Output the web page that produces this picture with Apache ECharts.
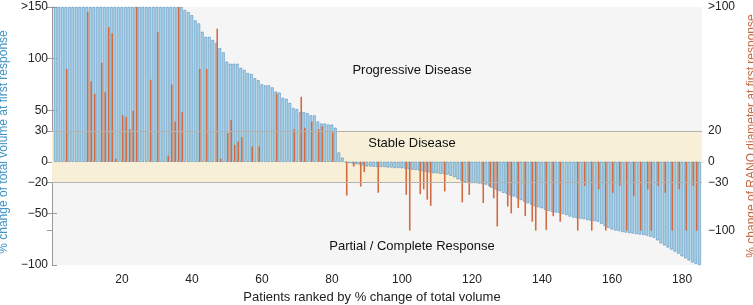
<!DOCTYPE html>
<html>
<head>
<meta charset="utf-8">
<script src="https://cdn.jsdelivr.net/npm/echarts@6/dist/echarts.min.js"></script>
<style>
  html, body { margin: 0; padding: 0; background: #fff; }
  #show { width: 753px; height: 305px; }
</style>
</head>
<body>
<div id="show"></div>
<script>
var myChart = echarts.init(document.getElementById("show"));

// % change of total volume, patient 1..185 (values above 150 drawn at 150, ">150")
var volumeChange = [
    150, 150, 150, 150, 150, 150, 150, 150, 150, 150,
    150, 150, 150, 150, 150, 150, 150, 150, 150, 150,
    150, 150, 150, 150, 150, 150, 150, 150, 150, 150,
    150, 150, 150, 150, 150, 150, 150, 147,
    145, 142, 137, 134, 126, 121, 121, 118, 115, 110,
    106, 97, 95, 95, 95, 91, 89, 86, 85, 81,
    79, 75, 74, 74, 72, 68, 67, 62, 61, 57,
    52, 51, 48, 48, 47, 45, 45, 39, 37, 37, 36,
    36, 33, 9, 4,
    -0.4, -1, -1.8, -2.3, -2.6, -3.5, -4.5, -4.5, -4.8, -5,
    -5, -5, -5.5, -5.5, -6, -6, -6.1, -6.5, -7, -7.7,
    -7.7, -8.4, -9, -9.7, -10.3, -11, -11, -11.6, -11.6, -12.3,
    -13.5, -14.8, -16.8, -18, -19.5,
    -20, -20.5, -20.6, -21, -21.5, -22, -23.5, -25.5, -27, -28.5,
    -30, -31, -32.5, -33.5, -35, -37, -38.5, -40, -41.5, -43,
    -44, -45, -46.5, -47.5, -48.5, -49, -49.5, -50.5, -51.5, -53,
    -54, -54.5, -55, -55.5, -56.5, -57, -57.5, -58,
    -60, -62, -64, -65.5, -66.5, -67, -68, -68.5, -69, -69.5,
    -70, -70.5, -70.8, -71.5, -72.5, -73.5, -76, -79, -81, -83,
    -85, -87, -89, -91.5, -93.5, -95.5, -97.5, -99, -100
];

// patients that also have a RANO measurement, and its % change (100 = ">100")
var ranoPatient = [
    4, 10, 11, 12, 14, 15, 16, 17, 18, 20, 21, 22, 23, 24, 28, 30, 33, 34, 35, 36, 37,
    42, 44, 47, 48, 50, 51, 52, 53, 54, 57, 59, 64, 69, 71, 72, 74, 76, 77, 80,
    84, 86, 88, 89, 93, 101, 102, 105, 106, 107, 108, 112, 117, 119, 123, 125, 126, 127,
    130, 131, 133, 135, 137, 138, 141, 143, 145, 150,
    152, 154, 156, 158, 160, 162, 164, 166, 168, 170, 171, 173, 175, 177, 179, 181, 183, 184
];
var ranoChange = [
    60, 97, 52, 44, 64, 45, 87, 83, 2, 30, 29, 21, 33, 100, 53, 84, 4, 50, 26, 100, 32,
    60, 60, 86, 2, 18.5, 27, 11, 13, 16, 10, 10, 44, 21, 42, 22, 26, 21, 23, 19,
    -49, -7, -36, -15, -45, -48, -100, -47, -40, -55, -64, -43, -59, -48, -60, -37, -53, -94,
    -65, -75, -67, -79, -87, -100, -99, -79, -87, -100,
    -35, -100, -40, -100, -45, -35, -100, -50, -100, -40, -100, -35, -45, -100, -40, -100, -35, -100
];

var volumeTicks = [-100, -50, -20, 0, 30, 50, 100, 150];
var ranoTicks = [100, 20, 0, -30, -100];
var xTicks = [20, 40, 60, 80, 100, 120, 140, 160, 180];

var captions = ['Progressive Disease', 'Stable Disease', 'Partial / Complete Response'];

// right axis: 0..100 RANO sits on 0..150 volume, 0..-100 RANO sits on 0..-66.7 volume
function ranoToAxis(v) {
    return v >= 0 ? v * 1.5 : v / 1.5;
}

var volumeData = volumeChange.map(function (v, i) { return [i + 1, v]; });
var ranoData = ranoPatient.map(function (p, k) { return [p, ranoToAxis(ranoChange[k])]; });

function minus(v) {
    return String(v).replace('-', '\u2212');
}

var font = 'Liberation Sans';
var axisGray = '#9a9a9a';

myChart.setOption(option = {
    animation: false,
    grid: {
        left: 52, right: 51, top: 7, bottom: 40,
        outerBoundsMode: 'none',
        containLabel: false,
        show: true,
        backgroundColor: '#f5f5f5',
        borderWidth: 0
    },
    xAxis: [
        {
            type: 'value',
            min: 0,
            max: 185.7,
            position: 'bottom',
            name: 'Patients ranked by % change of total volume',
            nameLocation: 'middle',
            nameGap: 25,
            nameTextStyle: { fontFamily: font, fontSize: 13, color: '#222', padding: [0, 10, 0, 0] },
            splitLine: { show: false },
            axisLine: { show: true, lineStyle: { color: axisGray } },
            axisTick: { show: true, inside: true, length: 5, customValues: xTicks, lineStyle: { color: axisGray } },
            axisLabel: { customValues: xTicks, fontFamily: font, fontSize: 12, color: '#222', margin: 9 }
        },
        {
            type: 'value',
            min: 0,
            max: 185.7,
            position: 'top',
            splitLine: { show: false },
            axisLine: { show: true, lineStyle: { color: axisGray } },
            axisTick: { show: true, inside: true, length: 5, customValues: xTicks, lineStyle: { color: axisGray } },
            axisLabel: { show: false }
        }
    ],
    yAxis: [
        {
            type: 'value',
            min: -100,
            max: 150,
            position: 'left',
            name: '% change of total volume at first response',
            nameLocation: 'middle',
            nameGap: 37,
            nameTextStyle: { fontFamily: font, fontSize: 12, color: '#3f93c6', padding: [0, 12, 0, 0] },
            splitLine: { show: false },
            axisLine: { show: true, lineStyle: { color: axisGray } },
            axisTick: { show: true, inside: true, length: 5, customValues: volumeTicks, lineStyle: { color: axisGray } },
            axisLabel: {
                customValues: volumeTicks,
                fontFamily: font, fontSize: 12, color: '#222', margin: 4,
                formatter: function (v) { return v === 150 ? '>150' : minus(v); }
            }
        },
        {
            type: 'value',
            min: -100,
            max: 150,
            position: 'right',
            name: '% change of RANO diameter at first response',
            nameLocation: 'middle',
            nameGap: 36,
            nameTextStyle: { fontFamily: font, fontSize: 12, color: '#c8663d' },
            splitLine: { show: false },
            axisLine: { show: true, lineStyle: { color: axisGray } },
            axisTick: {
                show: true, inside: true, length: 5,
                customValues: ranoTicks.map(ranoToAxis).concat([100, 50, -50]),
                lineStyle: { color: axisGray }
            },
            axisLabel: {
                customValues: ranoTicks.map(ranoToAxis),
                fontFamily: font, fontSize: 12, color: '#222', margin: 6,
                formatter: function (v) {
                    var r = Math.round(v >= 0 ? v / 1.5 : v * 1.5);
                    return r === 100 ? '>100' : minus(r);
                }
            }
        }
    ],
    series: [
        {
            type: 'bar',
            name: 'volume',
            data: volumeData,
            barWidth: 2.6,
            barGap: '-45%',
            itemStyle: { color: '#a9daf1', borderColor: '#3f78ad', borderWidth: 0.5 },
            markArea: {
                silent: true,
                itemStyle: { color: '#f7efd8' },
                data: [[{ yAxis: 30 }, { yAxis: -20 }]]
            },
            markLine: {
                silent: true,
                symbol: 'none',
                label: { show: false },
                lineStyle: { color: '#b3b3b3', width: 1, type: 'solid' },
                data: [{ yAxis: 30 }, { yAxis: -20 }]
            },
            z: 2
        },
        {
            type: 'bar',
            name: 'rano',
            data: ranoData,
            barWidth: 1.6,
            itemStyle: { color: '#d36b40' },
            z: 3
        }
    ],
    graphic: [
        { type: 'text', x: 412, y: 70, z: 10, style: { text: captions[0], fontFamily: font, fontSize: 13, fill: '#111', align: 'center', verticalAlign: 'middle' } },
        { type: 'text', x: 412, y: 143, z: 10, style: { text: captions[1], fontFamily: font, fontSize: 13, fill: '#111', align: 'center', verticalAlign: 'middle' } },
        { type: 'text', x: 412, y: 246, z: 10, style: { text: captions[2], fontFamily: font, fontSize: 13, fill: '#111', align: 'center', verticalAlign: 'middle' } }
    ]
});
</script>
</body>
</html>
